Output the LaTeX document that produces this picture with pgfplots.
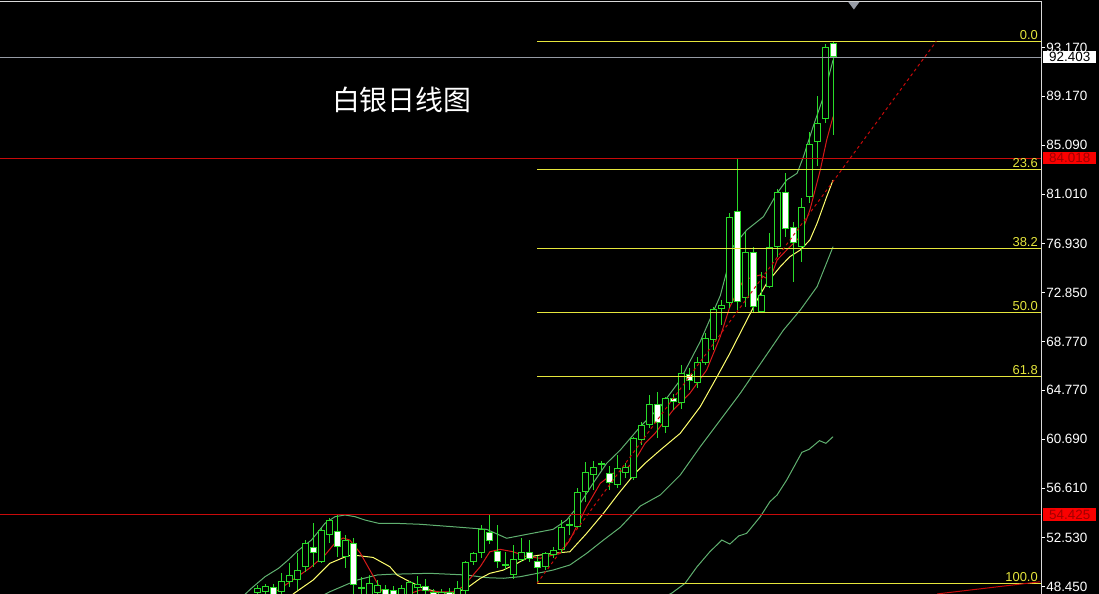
\documentclass[border=0pt]{standalone}
\usepackage{pgfplots}
\pgfplotsset{compat=1.18}
\usepackage{pgfplotstable}
\usepackage{fontspec}
\setmainfont{Liberation Sans}
\newfontfamily\cjk{Noto Sans CJK SC}

\definecolor{candle}{RGB}{40,220,40}
\definecolor{band}{RGB}{96,176,112}
\definecolor{ma5}{RGB}{215,25,25}
\definecolor{ma10}{RGB}{255,255,110}
\definecolor{fib}{RGB}{230,230,60}
\definecolor{hline}{RGB}{200,10,10}
\definecolor{pline}{RGB}{150,155,165}
\definecolor{tag}{RGB}{250,0,0}
\definecolor{tagtext}{RGB}{160,0,0}

% daily candles: index, open, high, low, close
\pgfplotstableread{
i  o      h      l      c
0  47.93  48.59  47.59  48.34
1  48.01  48.67  47.68  48.51
2  48.45  48.67  47.59  47.68
3  48.03  49.61  47.84  48.95
4  48.86  50.39  48.45  49.42
5  49.00  51.25  48.18  49.83
6  50.11  52.32  49.69  52.05
7  51.77  53.71  50.11  51.22
8  50.52  53.32  50.42  53.15
9  52.74  54.13  52.08  53.98
10 53.10  54.40  50.94  51.77
11 50.94  52.74  50.00  52.32
12 52.05  52.47  47.59  48.59
13 48.34  49.28  47.68  48.36
14 47.80  49.42  47.50  48.78
15 47.93  49.00  47.68  48.59
16 48.26  48.59  47.60  47.80
17 48.18  48.51  47.50  47.68
18 47.68  48.59  47.50  48.34
19 47.70  48.92  47.50  48.86
20 48.37  49.34  47.70  48.65
21 48.48  49.09  47.84  48.09
22 48.01  48.26  47.50  47.68
23 47.76  48.26  47.59  48.01
24 48.01  48.34  47.50  47.68
25 47.68  48.92  47.50  48.34
26 48.09  50.58  47.84  50.50
27 50.52  51.35  50.25  51.22
28 51.22  53.57  50.83  53.24
29 53.01  54.40  51.97  52.24
30 51.41  53.57  49.98  50.52
31 50.24  51.35  49.83  50.26
32 49.42  51.91  49.09  50.75
33 50.67  52.47  50.50  51.30
34 51.35  52.32  50.47  50.75
35 50.58  51.00  48.73  50.03
36 50.06  51.35  49.83  51.22
37 51.08  51.77  50.83  51.49
38 51.49  53.98  51.25  53.38
39 53.56  54.15  52.74  53.58
40 53.43  56.62  53.32  56.33
41 56.33  58.82  55.50  57.99
42 57.72  58.91  56.47  58.41
43 58.60  58.91  58.13  58.62
44 57.86  58.47  56.47  57.08
45 56.89  59.38  56.62  58.28
46 57.86  58.69  57.45  58.41
47 57.45  60.90  57.30  60.76
48 60.62  62.14  60.21  61.87
49 61.87  64.36  61.62  63.59
50 63.59  64.63  60.76  62.01
51 61.73  64.22  61.18  64.08
52 64.08  64.44  63.11  63.80
53 63.72  66.85  63.17  66.21
54 66.10  66.62  64.77  65.52
55 65.33  67.49  64.91  67.12
56 67.04  69.48  66.85  69.06
57 68.92  71.69  68.09  71.47
58 71.47  72.24  70.17  71.83
59 71.97  79.44  71.58  79.16
60 79.65  83.92  71.41  72.10
61 72.38  77.91  71.69  76.20
62 76.20  76.67  71.14  71.69
63 71.27  74.59  71.16  72.66
64 73.35  77.78  73.24  76.62
65 76.67  81.45  75.84  81.23
66 81.23  82.76  77.49  78.11
67 78.28  78.74  73.76  76.95
68 76.67  80.68  75.42  79.94
69 80.77  86.21  80.29  85.16
70 85.38  89.17  83.39  86.91
71 87.24  93.49  86.91  93.21
72 93.60  93.71  85.94  92.403
}\candles

\pgfplotsset{
  candlepart/.style 2 args={only marks, mark=*, mark options={opacity=0}, forget plot,
    error bars/.cd, y dir=both, y explicit, error mark=none,
    error bar style={line width=#1, #2}},
}
\tikzset{
  pricetag/.style={anchor=west, inner xsep=2bp, inner ysep=1.5bp,
    minimum width=53bp, font=\fontsize{13.5}{15}\selectfont},
}

\begin{document}
\begin{tikzpicture}
\useasboundingbox (0,0) rectangle (1099bp,594bp);
\fill[black] (0,0) rectangle (1099bp,594bp);
\begin{axis}[
    at={(0,0)}, anchor=south west,
    scale only axis,
    width=1041bp, height=592bp,
    xmin=-32.125, xmax=98,
    ymin=47.844, ymax=96.973,
    axis line style={draw=none},
    xtick=\empty,
    ytick={48.45,52.53,56.61,60.69,64.77,68.77,72.85,76.93,81.01,85.09,89.17,93.17},
    yticklabels={48.450,52.530,56.610,60.690,64.770,68.770,72.850,76.930,81.010,85.090,89.170,93.170},
    ytick pos=right, yticklabel pos=right,
    tick align=outside,
    major tick length=4bp,
    tick style={white, line width=0.8bp},
    yticklabel style={font=\fontsize{13.5}{15}\selectfont, text=white, inner sep=1bp, anchor=west},
    clip mode=individual,
]

% Bollinger bands
\addplot[band, line width=1bp, forget plot] coordinates {
(-2,47.50) (-0.7,48.32) (1,49.28) (2.7,49.98) (3.9,50.67) (5.2,51.49) (6.8,52.32)
(8.5,53.71) (9.75,54.26) (11,54.40) (12.25,54.26) (13.5,53.98) (15.2,53.71)
(17.25,53.71) (20.4,53.63) (25.4,53.38) (28.7,53.21) (31.2,52.47) (33.3,52.74)
(37,53.21) (38.7,53.98) (40.4,55.37) (42,57.03) (43.7,58.69) (45.4,59.79)
(47.9,61.73) (50.4,63.39) (52.9,65.60) (55.4,68.8) (57.9,72.6) (58.9,75.1)
(59.5,76.67) (61.2,78.05) (63.3,79.16) (65,81.10) (66.2,82.20) (67.5,82.76)
(68.3,84.14) (69.5,86.62) (70.8,89.11) (72,92.16)
};
\addplot[band, line width=1bp, forget plot] coordinates {
(7,47.30) (9.1,48.03) (12.5,49.00) (15,49.42) (16.6,49.48) (21.6,49.56)
(26.2,49.42) (28.7,49.20) (30.8,49.15) (32.9,49.28) (35.4,49.61) (37,49.83)
(39.1,50.25) (41.2,51.22) (43.3,52.32) (45.4,53.38) (47.9,55.14) (50.4,56.06)
(52.9,57.72) (55.4,60.07) (57.9,62.28) (60.4,64.50) (65.8,69.75) (67.9,71.41)
(70,73.35) (72,76.67)
};
% long moving average
\addplot[band, line width=1bp, forget plot] coordinates {
(49.5,47.20) (51.8,47.90) (53.5,48.73) (55,50.11) (56.6,51.35) (58.1,52.32)
(59.1,51.99) (60.2,52.66) (61.2,52.88) (62.9,54.26) (64.1,55.50) (65,56.06)
(66.2,57.30) (68.1,59.60) (69,59.85) (70.3,60.57) (71.1,60.35) (72,60.90)
};
% yellow moving average
\addplot[ma10, line width=1bp, forget plot] coordinates {
(4.5,47.84) (7.0,49.00) (9.1,50.39) (11.2,50.98) (12,51.08) (14.5,50.88)
(16.6,50.11) (17.5,49.42) (18.7,49.00) (20.8,48.32) (22.9,47.95) (24.5,47.90)
(26.2,48.32) (27.9,49.14) (29.1,49.56) (30.8,49.83) (32.5,50.39) (34.1,50.94)
(35.4,51.08) (37,51.22) (39.1,51.35) (41.2,52.88) (43.3,54.54) (45.2,56.19)
(47.25,57.86) (48.5,58.69) (50.4,59.79) (52.9,61.18) (55.4,63.39) (57.5,65.88)
(59.1,67.82) (60.8,70.03) (62.5,72.24) (63.7,73.63) (65.4,75.01) (66.6,75.84)
(67.9,76.39) (69.1,77.22) (70,78.61) (71.2,80.81) (72,82.20)
};
% red moving average
\addplot[ma5, line width=1bp, forget plot] coordinates {
(1,47.40) (1.9,47.84) (4.1,48.84) (6.6,50.00) (8.5,51.08) (9.75,52.08)
(10.75,52.49) (11.6,52.32) (12.9,51.25) (14.1,49.83) (15.75,47.93) (17.9,47.59)
(20.4,48.18) (22.9,48.01) (24.5,48.03) (25.75,48.45) (27.9,50.11) (29.1,51.35)
(30.4,51.55) (32,51.35) (33.7,50.94) (35.4,50.81) (37.9,51.22) (39.1,52.32)
(41.2,55.09) (42.9,57.03) (44.5,57.86) (46,58.13) (47.25,58.96) (48.5,60.35)
(49.75,61.18) (52,63.11) (54.1,64.50) (56.2,66.43) (57.9,69.20) (59.1,71.69)
(60.8,73.90) (62.9,74.32) (64.1,73.90) (65,75.56) (66.2,76.39) (67.9,77.50)
(69.1,79.71) (70.4,83.03) (71.2,85.52) (72,87.46)
};

% candles: wicks, outlines, then hollow (up) and white (down) bodies
\addplot[candlepart={1bp}{candle}]
    table[x=i, y expr={(\thisrow{h}+\thisrow{l})/2},
          y error expr={(\thisrow{h}-\thisrow{l})/2}] {\candles};
\addplot[candlepart={7bp}{candle}]
    table[x=i, y expr={(\thisrow{o}+\thisrow{c})/2},
          y error expr={max(abs(\thisrow{c}-\thisrow{o})/2,0.1)}] {\candles};
\addplot[candlepart={5bp}{black}]
    table[x=i, y expr={(\thisrow{c}-\thisrow{o}>0.2) ? (\thisrow{o}+\thisrow{c})/2 : nan},
          y error expr={max(abs(\thisrow{c}-\thisrow{o})/2-0.083,0.01)}] {\candles};
\addplot[candlepart={5bp}{white}]
    table[x=i, y expr={(\thisrow{o}-\thisrow{c}>0.2) ? (\thisrow{o}+\thisrow{c})/2 : nan},
          y error expr={max(abs(\thisrow{c}-\thisrow{o})/2-0.083,0.01)}] {\candles};

% horizontal price lines
\addplot[pline, line width=1bp, forget plot] coordinates {(-32.125,92.403) (98,92.403)};
\addplot[hline, line width=1bp, forget plot] coordinates {(-32.125,84.018) (98,84.018)};
\addplot[hline, line width=1bp, forget plot] coordinates {(-32.125,54.425) (98,54.425)};

% Fibonacci retracement
\addplot[fib, line width=1bp, forget plot] coordinates {(35,93.71) (98,93.71)};
\addplot[fib, line width=1bp, forget plot] coordinates {(35,83.10) (98,83.10)};
\addplot[fib, line width=1bp, forget plot] coordinates {(35,76.53) (98,76.53)};
\addplot[fib, line width=1bp, forget plot] coordinates {(35,71.22) (98,71.22)};
\addplot[fib, line width=1bp, forget plot] coordinates {(35,65.91) (98,65.91)};
\addplot[fib, line width=1bp, forget plot] coordinates {(35,48.73) (98,48.73)};
\addplot[hline, line width=1bp, dash pattern=on 3bp off 3bp, forget plot] coordinates {(35,48.73) (84.9,93.71)};
\addplot[hline, line width=1bp, forget plot] coordinates {(85.0,47.85) (97.9,48.86)};

\foreach \lv/\tx in {93.71/0.0, 83.10/23.6, 76.53/38.2, 71.22/50.0, 65.91/61.8, 48.73/100.0}{
  \edef\tmp{\noexpand\node[anchor=south east, text=fib, inner sep=1.5bp,
      font=\noexpand\fontsize{13}{15}\noexpand\selectfont]
      at (axis cs:97.8,\lv) {\tx};}\tmp
}

% price tags on the scale
\node[pricetag, fill=white, text=black] at (axis cs:98.25,92.403) {92.403};
\node[pricetag, fill=tag, text=tagtext] at (axis cs:98.25,84.018) {84.018};
\node[pricetag, fill=tag, text=tagtext] at (axis cs:98.25,54.425) {54.425};

% frame
\draw[white!85!black, line width=1bp] (rel axis cs:0,1) -- (rel axis cs:1,1) -- (rel axis cs:1,0);
\fill[pline] (axis cs:73.9,96.973) -- (axis cs:75.3,96.973) -- (axis cs:74.6,96.35) -- cycle;

\node[text=white, font=\cjk\fontsize{28}{32}\selectfont] at (axis cs:18.1,88.84) {白银日线图};
\end{axis}
\end{tikzpicture}
\end{document}
